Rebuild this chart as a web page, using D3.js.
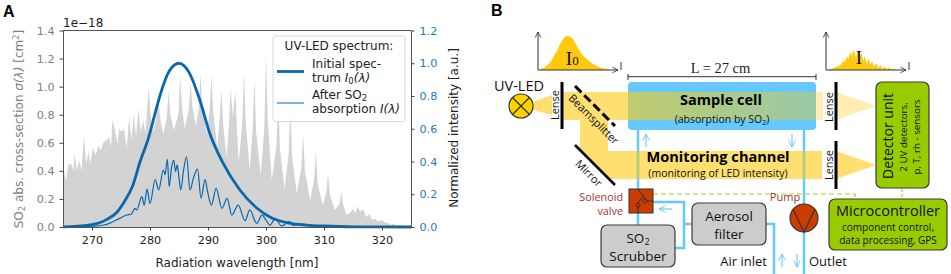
<!DOCTYPE html>
<html>
<head>
<meta charset="utf-8">
<script src="https://cdn.jsdelivr.net/npm/d3@7"></script>
<style>
body { margin: 0; background: #fff; }
svg { display: block; }
.plot text { font-family: "DejaVu Sans", sans-serif; font-size: 12px; }
.plot .tick text { font-size: 11.2px; }
.diagram text { font-family: "Open Sans", sans-serif; }
</style>
</head>
<body>
<div id="chart"></div>
<script>
// gray cross-section, nm and 1e-18 cm2
var sigmaNm = [265,265.5,265.9,266.4,266.8,267,267.4,267.8,268.2,268.6,269,269.4,269.7,270.2,270.6,271.1,271.5,272,272.5,273,273.3,273.5,274,274.4,274.7,275.1,275.5,276,276.4,276.8,277.2,277.6,278,278.4,278.85,279.2,279.8,280.1,280.5,281,281.4,281.8,282.3,282.9,283.2,283.5,284.1,284.9,285.2,285.5,286,286.7,287,287.3,287.9,288.4,288.7,289,289.8,290.3,290.6,290.9,291.6,292,292.3,292.6,293.2,293.6,293.9,294.3,294.7,295,295.3,295.9,296.2,296.5,297.2,297.7,298,298.3,299.1,299.7,300,300.3,301,301.8,302.1,302.4,303.2,303.9,304.2,304.5,305.3,306.1,306.4,306.7,307.6,308.3,308.6,308.9,309.8,310.4,310.7,311,311.9,312.7,313,313.3,313.9,314.5,315,315.4,315.8,316.2,316.8,317.3,317.8,318.3,318.8,319.4,320,320.5,321,321.5,322,322.5,323,324,325];
var sigmaVal = [0.44,0.33,0.44,0.45,0.40,0.52,0.40,0.475,0.40,0.646,0.45,0.534,0.45,0.57,0.51,0.577,0.546,0.606,0.618,0.64,0.57,0.76,0.68,0.594,0.70,0.68,0.70,0.558,0.784,0.618,0.796,0.64,0.843,0.677,0.76,0.665,0.998,0.80,0.677,0.76,0.926,0.76,0.665,0.78,0.974,0.80,0.689,0.80,1.08,0.86,0.70,0.84,1.033,0.86,0.72,0.84,1.09,0.88,0.66,0.84,1.08,0.82,0.57,0.76,0.979,0.74,0.50,0.72,0.979,0.78,0.974,0.70,0.46,0.74,1.105,0.74,0.41,0.70,1.05,0.68,0.37,0.70,1.228,0.76,0.335,0.58,0.95,0.56,0.27,0.52,0.855,0.50,0.24,0.42,0.665,0.40,0.19,0.34,0.535,0.31,0.155,0.25,0.38,0.23,0.12,0.17,0.25,0.16,0.085,0.10,0.13,0.10,0.145,0.11,0.125,0.07,0.095,0.05,0.06,0.04,0.05,0.03,0.03,0.015,0.025,0.01,0.015,0.004,0];

// initial LED spectrum
var ledNm = [265,267,269,270,271.3,272.5,274.3,275.5,277,278.3,279.7,281,281.7,283.4,285,286.8,288.6,290.3,292.6,295.5,298.4,301,304,307,310,315,325];
var ledVal = [0.001,0.004,0.01,0.015,0.026,0.045,0.09,0.15,0.25,0.40,0.54,0.71,0.80,0.957,1.0,0.94,0.774,0.573,0.39,0.226,0.116,0.055,0.024,0.012,0.006,0.001,0];

// after absorption
var afterNm = [265,270.2,272,273.1,274.5,275.97,276.8,277.4,277.7,278.6,279,279.5,280,280.9,281.5,282.3,282.6,283,283.3,283.7,284.1,284.4,284.7,285,285.3,285.8,286.3,286.9,287.5,288.2,288.8,289.5,289.9,290.6,291.4,292.4,293.3,294.1,295.2,296.4,297.2,298.4,299.3,300.7,301.6,302.7,304.1,304.7,306.2,308.7,325];
var afterVal = [0,0.005,0.012,0.024,0.048,0.073,0.079,0.114,0.104,0.185,0.134,0.231,0.144,0.29,0.226,0.348,0.32,0.413,0.246,0.36,0.408,0.34,0.38,0.30,0.226,0.35,0.429,0.226,0.30,0.353,0.175,0.29,0.22,0.134,0.236,0.114,0.175,0.073,0.134,0.039,0.104,0.022,0.073,0.012,0.053,0.006,0.033,0.01,0.018,0.005,0];

var xTicks = [270,280,290,300,310,320];
var sigmaTicks = [0,0.2,0.4,0.6,0.8,1.0,1.2,1.4];
var intensityTicks = [0,0.2,0.4,0.6,0.8,1.0,1.2];

var sigmaData = sigmaNm.map((d, i) => ({ nm: d, v: sigmaVal[i] }));
var ledData = ledNm.map((d, i) => ({ nm: d, v: ledVal[i] }));
var afterData = afterNm.map((d, i) => ({ nm: d, v: afterVal[i] }));

var svg = d3.select("#chart")
    .append("svg")
    .attr("width", 951)
    .attr("height", 274);

var blue = "#0a67ad";
var tickBlue = "#2a7ab5";

// ---------- panel A ----------
var plot = svg.append("g").attr("class", "plot");

var x = d3.scaleLinear().domain([265, 325]).range([63, 411]);
var ySigma = d3.scaleLinear().domain([0, 1.4]).range([227, 30.5]);
var yInt = d3.scaleLinear().domain([0, 1.2]).range([227, 30.5]);

plot.append("path")
    .datum(sigmaData)
    .attr("fill", "#d3d3d3")
    .attr("d", d3.area().x(d => x(d.nm)).y0(ySigma(0)).y1(d => ySigma(d.v)));

plot.append("path")
    .datum(ledData)
    .attr("fill", "none")
    .attr("stroke", blue)
    .attr("stroke-width", 2.8)
    .attr("d", d3.line().x(d => x(d.nm)).y(d => yInt(d.v)).curve(d3.curveMonotoneX));

plot.append("path")
    .datum(afterData)
    .attr("fill", "none")
    .attr("stroke", blue)
    .attr("stroke-width", 1.2)
    .attr("d", d3.line().x(d => x(d.nm)).y(d => yInt(d.v)).curve(d3.curveMonotoneX));

function styleAxis(g, labelColor) {
    g.selectAll("path").attr("stroke", "#555").attr("stroke-width", 1);
    g.selectAll("line").attr("stroke", "#444");
    g.selectAll("text").attr("fill", labelColor);
}

plot.append("g")
    .attr("transform", "translate(0,227)")
    .call(d3.axisBottom(x).tickValues(xTicks).tickSize(3.5).tickPadding(6).tickSizeOuter(0))
    .call(styleAxis, "#222");

plot.append("g")
    .attr("transform", "translate(63,0)")
    .call(d3.axisLeft(ySigma).tickValues(sigmaTicks).tickFormat(d3.format(".1f")).tickSize(3.5).tickPadding(5).tickSizeOuter(0))
    .call(styleAxis, "#808080");

plot.append("g")
    .attr("transform", "translate(411,0)")
    .call(d3.axisRight(yInt).tickValues(intensityTicks).tickFormat(d3.format(".1f")).tickSize(3.5).tickPadding(5).tickSizeOuter(0))
    .call(styleAxis, tickBlue);

plot.append("line")
    .attr("x1", 63).attr("x2", 411).attr("y1", 30.5).attr("y2", 30.5)
    .attr("stroke", "#555");

plot.append("text").attr("x", 63).attr("y", 27).attr("fill", "#222").text("1e\u221218");

plot.append("text")
    .attr("x", 237).attr("y", 267)
    .attr("text-anchor", "middle")
    .attr("fill", "#222")
    .text("Radiation wavelength [nm]");

var leftLabel = plot.append("text")
    .attr("transform", "translate(23,129) rotate(-90)")
    .attr("text-anchor", "middle")
    .attr("fill", "#808080");
leftLabel.append("tspan").text("SO");
leftLabel.append("tspan").attr("dy", 2).style("font-size", "8.5px").text("2");
leftLabel.append("tspan").attr("dy", -2).text(" abs. cross-section ");
leftLabel.append("tspan").attr("font-style", "italic").text("\u03c3(\u03bb)");
leftLabel.append("tspan").text(" [cm");
leftLabel.append("tspan").attr("dy", -4).style("font-size", "8.5px").text("2");
leftLabel.append("tspan").attr("dy", 4).text("]");

plot.append("text")
    .attr("transform", "translate(458,128) rotate(-90)")
    .attr("text-anchor", "middle")
    .attr("fill", "#222")
    .text("Normalized intensity [a.u.]");

// legend
var legend = plot.append("g");
legend.append("rect")
    .attr("x", 273).attr("y", 36)
    .attr("width", 132).attr("height", 85.5)
    .attr("rx", 2.5)
    .attr("fill", "#fff").attr("fill-opacity", 0.85)
    .attr("stroke", "#d8d8d8");
legend.append("text").attr("x", 339).attr("y", 50).attr("text-anchor", "middle").attr("fill", "#222").text("UV-LED spectrum:");
legend.append("line").attr("x1", 277).attr("x2", 304).attr("y1", 71.5).attr("y2", 71.5).attr("stroke", blue).attr("stroke-width", 2.8);
legend.append("line").attr("x1", 277).attr("x2", 304).attr("y1", 103).attr("y2", 103).attr("stroke", blue).attr("stroke-width", 1);
legend.append("text").attr("x", 312).attr("y", 68).attr("fill", "#222").text("Initial spec-");
var l2 = legend.append("text").attr("x", 312).attr("y", 82).attr("fill", "#222");
l2.append("tspan").text("trum ");
l2.append("tspan").attr("font-style", "italic").text("I");
l2.append("tspan").attr("dy", 2).style("font-size", "8.5px").text("0");
l2.append("tspan").attr("dy", -2).attr("font-style", "italic").text("(\u03bb)");
var l3 = legend.append("text").attr("x", 312).attr("y", 99).attr("fill", "#222");
l3.append("tspan").text("After SO");
l3.append("tspan").attr("dy", 2).style("font-size", "8.5px").text("2");
var l4 = legend.append("text").attr("x", 312).attr("y", 113).attr("fill", "#222");
l4.append("tspan").text("absorption ");
l4.append("tspan").attr("font-style", "italic").text("I(\u03bb)");

// ---------- panel B ----------
var dia = svg.append("g").attr("class", "diagram");

var beam = "#ffdf70", beamLight = "#ffedb3", tube = "#66c8ff", green = "#99cc00",
    red = "#cc3c00", darkRed = "#a33232", line = "#333", dashGreen = "#a3d12f";

var defs = svg.append("defs");
var grad = defs.append("linearGradient").attr("id", "cellBeam");
grad.append("stop").attr("offset", "0%").attr("stop-color", "#bfcc6e");
grad.append("stop").attr("offset", "100%").attr("stop-color", "#9ac9a6");
var arrowId = defs.append("marker")
    .attr("id", "arr").attr("viewBox", "0 0 10 10").attr("refX", 9).attr("refY", 5)
    .attr("markerWidth", 7).attr("markerHeight", 7).attr("markerUnits", "userSpaceOnUse").attr("orient", "auto");
arrowId.append("path").attr("d", "M1,1 L9,5 L1,9").attr("fill", "none").attr("stroke", line).attr("stroke-width", 1.2);
var arrowB = defs.append("marker")
    .attr("id", "arrB").attr("viewBox", "0 0 10 10").attr("refX", 9).attr("refY", 5)
    .attr("markerWidth", 8).attr("markerHeight", 8).attr("markerUnits", "userSpaceOnUse").attr("orient", "auto");
arrowB.append("path").attr("d", "M1,1 L9,5 L1,9").attr("fill", "none").attr("stroke", tube).attr("stroke-width", 1.2);

function poly(pts, fill) {
    return dia.append("polygon").attr("points", pts.join(" ")).attr("fill", fill);
}
function seg(x1, y1, x2, y2, color, w) {
    return dia.append("line").attr("x1", x1).attr("y1", y1).attr("x2", x2).attr("y2", y2)
        .attr("stroke", color).attr("stroke-width", w);
}
function label(txt, px, py, size, anchor, color, weight) {
    return dia.append("text").attr("x", px).attr("y", py)
        .attr("text-anchor", anchor || "middle")
        .attr("fill", color || "#111")
        .attr("font-weight", weight || 400)
        .style("font-size", size + "px")
        .text(txt);
}
function turned(txt, px, py, deg, size, weight) {
    return dia.append("text")
        .attr("transform", "translate(" + px + "," + py + ") rotate(" + deg + ")")
        .attr("text-anchor", "middle")
        .attr("fill", "#111")
        .attr("font-weight", weight || 400)
        .style("font-size", size + "px")
        .text(txt);
}
function box(x0, y0, x1, y1, fill) {
    return dia.append("rect").attr("x", x0).attr("y", y0).attr("width", x1 - x0).attr("height", y1 - y0)
        .attr("rx", 6).attr("fill", fill).attr("stroke", "#3a3a3a").attr("stroke-width", 1.2);
}
function tubePath(d) {
    return dia.append("path").attr("d", d).attr("fill", "none").attr("stroke", tube).attr("stroke-width", 2.5);
}
function flowArrow(x1, y1, x2, y2) {
    seg(x1, y1, x2, y2, tube, 1.1).attr("marker-end", "url(#arrB)");
}

label("A", 3, 17, 16, "start", "#000", 700).style("font-family", "'Liberation Sans'");
label("B", 491, 16, 16, "start", "#000", 700).style("font-family", "'Liberation Sans'");

// little spectra, same series as panel A
var miniX0 = d3.scaleLinear().domain([272, 305]).range([540, 611]);
var miniY0 = d3.scaleLinear().domain([0, 1]).range([70, 36]);
dia.append("path").datum(ledData.filter(d => d.nm >= 272 && d.nm <= 305))
    .attr("fill", "#ffc90e")
    .attr("d", d3.area().x(d => miniX0(d.nm)).y0(70).y1(d => miniY0(d.v)).curve(d3.curveMonotoneX));
var miniX1 = d3.scaleLinear().domain([272, 305]).range([829, 896]);
var miniY1 = d3.scaleLinear().domain([0, 0.43]).range([70, 49]);
dia.append("path").datum(afterData.filter(d => d.nm >= 272 && d.nm <= 305))
    .attr("fill", "#ffc90e")
    .attr("d", d3.area().x(d => miniX1(d.nm)).y0(70).y1(d => miniY1(d.v)));

[[538, 618, 621], [826, 906, 909]].forEach(function (a) {
    seg(a[0], 70, a[0], 32, line, 1).attr("marker-end", "url(#arr)");
    seg(a[0], 70, a[1], 70, line, 1).attr("marker-end", "url(#arr)");
    seg(a[2], 62, a[2], 70, line, 1);
});
label("I", 569, 65, 19, "middle", "#111").style("font-family", "'Liberation Serif'");
label("0", 575.5, 65, 13, "middle", "#111").style("font-family", "'Liberation Serif'");
label("I", 859, 64, 19, "middle", "#111").style("font-family", "'Liberation Serif'");

// L bracket
label("L = 27 cm", 720.5, 73, 14.5, "middle", "#222").style("font-family", "'Liberation Serif'");
seg(628, 76.7, 816, 76.7, line, 1);
seg(628, 74, 628, 80, line, 1);
seg(816, 74, 816, 80, line, 1);

// beams
poly([[533, 102], [552, 95], [552, 115], [533, 110]], beam);
poly([[816, 92], [823, 92], [823, 120], [816, 120]], beamLight);
poly([[836, 92], [876, 106], [836, 120]], beamLight);
poly([[580, 120], [608, 120], [608, 151], [822, 151], [822, 179], [609, 179], [580, 150]], beam);
poly([[836, 151], [876, 165], [836, 179]], beam);
poly([[562, 92], [628, 92], [628, 120], [562, 120]], beam);

// sample cell
dia.append("rect").attr("x", 628).attr("y", 82).attr("width", 188).attr("height", 48).attr("rx", 4).attr("fill", tube);
dia.append("rect").attr("x", 628).attr("y", 92).attr("width", 188).attr("height", 28).attr("fill", "url(#cellBeam)");

// tubes
tubePath("M638,130 V225");
tubePath("M804,130 V274");
tubePath("M653,202 H684 V248 H675");
tubePath("M684,224 H692");
tubePath("M766,224 H774 V274");
seg(638, 151, 638, 179, "#bfcc6e", 2.5);
seg(804, 151, 804, 179, "#bfcc6e", 2.5);

flowArrow(646, 147, 646, 134);
flowArrow(792, 134, 792, 147);
flowArrow(672, 209, 659, 209);
flowArrow(782, 267, 782, 254);
flowArrow(797, 254, 797, 267);

// control lines
dia.append("path").attr("d", "M653,194 H855 V199").attr("fill", "none")
    .attr("stroke", dashGreen).attr("stroke-width", 1.2).attr("stroke-dasharray", "5,3");
seg(902, 189, 902, 199, dashGreen, 1.2).attr("stroke-dasharray", "3,2");

// optics
seg(562, 82, 562, 129, "#000", 3);
seg(836, 82, 836, 130, "#000", 3);
seg(836, 141, 836, 189, "#000", 3);
seg(575, 86, 615, 126, "#000", 3).attr("stroke-dasharray", "9,4");
seg(575, 145, 615, 185, "#000", 2.5);

// lamp
dia.append("circle").attr("cx", 521).attr("cy", 106).attr("r", 12).attr("fill", "#ffd200").attr("stroke", line).attr("stroke-width", 1.2);
seg(512.5, 97.5, 529.5, 114.5, line, 1.2);
seg(529.5, 97.5, 512.5, 114.5, line, 1.2);
label("UV-LED", 519, 91, 14.5);

turned("Lense", 559, 105, -90, 11);
turned("Lense", 833, 107, -90, 11);
turned("Lense", 833, 165, -90, 11);
turned("Beamsplitter", 591, 122, 45, 11);
turned("Mirror", 586, 176, 45, 11);

// valve
dia.append("rect").attr("x", 629).attr("y", 189).attr("width", 24).attr("height", 24).attr("fill", red).attr("stroke", line);
seg(638, 189, 645, 199, line, 1);
seg(638, 203, 644, 195, line, 1);
seg(638, 207, 638, 213, line, 1);
seg(647, 201, 653, 201, line, 1);
dia.append("circle").attr("cx", 638).attr("cy", 205).attr("r", 2).attr("fill", "none").attr("stroke", line);
dia.append("circle").attr("cx", 645).attr("cy", 201).attr("r", 2).attr("fill", "none").attr("stroke", line);
label("Solenoid", 623, 200.5, 10.8, "end", darkRed);
label("valve", 623, 214.5, 10.8, "end", darkRed);

// pump
label("Pump", 785, 201, 11, "middle", darkRed);
dia.append("circle").attr("cx", 804).attr("cy", 218).attr("r", 14).attr("fill", red).attr("stroke", line).attr("stroke-width", 1.2);
dia.append("path").attr("d", "M793,209 L804,232 L815,209").attr("fill", "none").attr("stroke", line).attr("stroke-width", 1.2);

// boxes
box(601, 225, 675, 267, "#cccccc");
var so2 = label("SO", 638, 243, 13.5);
so2.append("tspan").attr("dy", 2).style("font-size", "9px").text("2");
label("Scrubber", 638, 261, 13.5);
box(692, 203, 766, 245, "#cccccc");
label("Aerosol", 729, 221, 13.5);
label("filter", 729, 239, 13.5);

box(829, 199, 947, 250, green);
label("Microcontroller", 888, 216, 14.5);
label("component control,", 888, 231, 10);
label("data processing, GPS", 888, 243.5, 10);

box(876, 82, 929, 188, green);
turned("Detector unit", 893, 136, -90, 14);
turned("2 UV detectors,", 907, 137, -90, 9.8);
turned("p, T, rh - sensors", 920, 137, -90, 9.8);

// cell and channel captions
label("Sample cell", 721, 105, 14.5, "middle", "#000", 700);
var cap = label("(absorption by SO", 722, 123, 10.5);
cap.append("tspan").attr("dy", 2).style("font-size", "7px").text("2");
cap.append("tspan").attr("dy", -2).text(")");
label("Monitoring channel", 718, 162, 14.6, "middle", "#000", 700);
label("(monitoring of  LED intensity)", 718, 177, 10.5);

label("Air inlet", 767, 266, 13, "end");
label("Outlet", 809, 266, 13, "start");
</script>
</body>
</html>
